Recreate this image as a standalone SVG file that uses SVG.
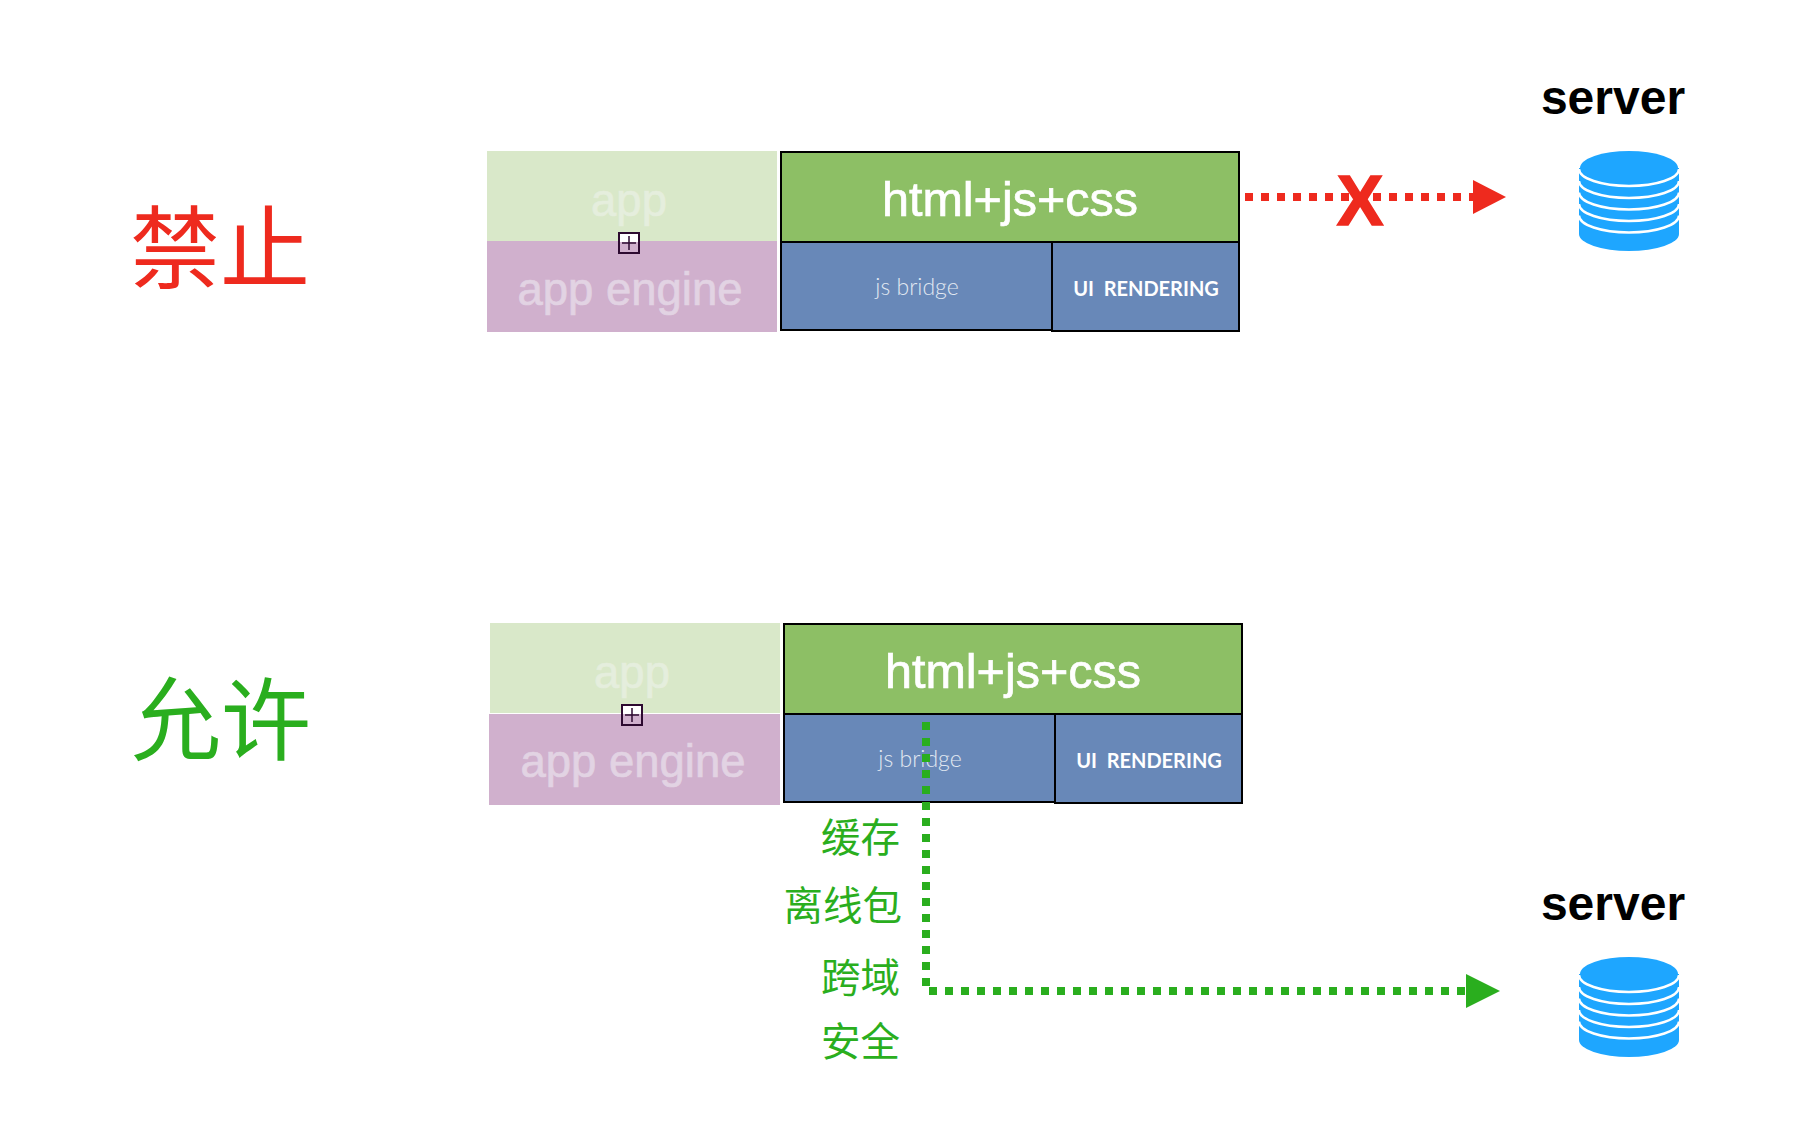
<svg xmlns="http://www.w3.org/2000/svg" width="1798" height="1136" viewBox="0 0 1798 1136">
<style>
text{font-family:"Liberation Sans",Arial,sans-serif}
.cjk{font-family:"Noto Sans CJK SC",sans-serif}
.title{font-size:90px;text-anchor:middle}
.small{font-size:39.500px;fill:#2AAE1E;text-anchor:end}
.app{font-size:45.500px;text-anchor:middle;fill:#E5EEDD;stroke:#E5EEDD;stroke-width:.7}
.eng{font-size:45.500px;text-anchor:middle;fill:#E2D3E3;stroke:#E2D3E3;stroke-width:.7}
.html{font-size:48.500px;text-anchor:middle;fill:#fff;stroke:#fff;stroke-width:.7}
.js{font-family:"Lato",sans-serif;font-weight:300;font-size:23px;text-anchor:middle;fill:#E2E8F2}
.ui{font-family:"Lato",sans-serif;font-weight:700;font-size:20px;text-anchor:middle;fill:#fff;white-space:pre}
.srv{font-size:48px;font-weight:700;text-anchor:middle;fill:#000}
.box{stroke:#000;stroke-width:2}
.lg{fill:#D9E8C9}.pu{fill:#D0B0CD}.gr{fill:#8DBF65}.bl{fill:#6888B8}
.arc{fill:none;stroke:#fff;stroke-width:2.500}
.dr{fill:none;stroke:#EE2A1E;stroke-width:8;stroke-dasharray:8 8}
.dg{fill:none;stroke:#2AAE1E;stroke-width:8;stroke-dasharray:8 8}
</style>
<defs>
<g id="db">
<path d="M0 17V83A50 17 0 0 0 100 83V17Z" fill="#1EA6FF"/>
<ellipse cx="50" cy="17" rx="49" ry="17" fill="#1EA6FF"/>
<path class="arc" d="M0 18A50 17 0 0 0 100 18M0 30A50 17 0 0 0 100 30M0 41.500A50 17 0 0 0 100 41.500M0 53A50 17 0 0 0 100 53M0 64.500A50 17 0 0 0 100 64.500"/>
</g>
<g id="plus">
<rect x="1" y="1" width="20" height="9" fill="#fff"/>
<path d="M1 1H21V21H1Z" fill="none" stroke="#2D0A30" stroke-width="2"/>
<path d="M4 11H18M11 4V18" fill="none" stroke="#2D0A30" stroke-width="1.500"/>
</g>
</defs>

<g id="label-forbid"><text class="cjk title" x="220" y="281" fill="#EE2A1E">禁止</text></g>
<g id="label-allow"><text class="cjk title" x="221" y="753" fill="#2AAE1E">允许</text></g>

<g id="top-app"><rect class="lg" x="487" y="151" width="290" height="90"/><text class="app" x="629" y="216">app</text></g>
<g id="top-engine"><rect class="pu" x="487" y="241" width="290" height="91"/><text class="eng" x="630" y="305">app engine</text></g>
<use id="top-plus" href="#plus" x="618" y="232"/>
<g id="top-html"><rect class="gr box" x="781" y="152" width="458" height="90"/><text class="html" x="1010" y="216">html+js+css</text></g>
<g id="top-js"><rect class="bl box" x="781" y="242" width="271" height="88"/><text class="js" x="917" y="295">js bridge</text></g>
<g id="top-ui"><rect class="bl box" x="1052" y="242" width="187" height="89"/><text class="ui" x="1146" y="296">UI  RENDERING</text></g>

<g id="bottom-app"><rect class="lg" x="490" y="623" width="290" height="90"/><text class="app" x="632" y="688">app</text></g>
<g id="bottom-engine"><rect class="pu" x="489" y="714" width="291" height="91"/><text class="eng" x="633" y="777">app engine</text></g>
<use id="bottom-plus" href="#plus" x="621" y="704"/>
<g id="bottom-html"><rect class="gr box" x="784" y="624" width="458" height="90"/><text class="html" x="1013" y="688">html+js+css</text></g>
<g id="bottom-js"><rect class="bl box" x="784" y="714" width="271" height="88"/><text class="js" x="920" y="767">js bridge</text></g>
<g id="bottom-ui"><rect class="bl box" x="1055" y="714" width="187" height="89"/><text class="ui" x="1149" y="768">UI  RENDERING</text></g>

<g id="connectors">
<path class="dr" d="M1245 197H1473"/>
<path d="M1473 180L1506 197L1473 214Z" fill="#EE2A1E"/>
<path class="dg" d="M926 722V987"/>
<path class="dg" d="M929 991H1466"/>
<path d="M1466 974L1500 991L1466 1008Z" fill="#2AAE1E"/>
</g>
<g id="block-x"><text x="1360" y="224.500" font-size="70" font-weight="700" text-anchor="middle" fill="#EE2A1E" stroke="#EE2A1E" stroke-width="1.500">X</text></g>

<g id="server-top"><text class="srv" x="1613" y="114">server</text><use href="#db" x="1579" y="151"/></g>
<g id="server-bottom"><text class="srv" x="1613" y="920">server</text><use href="#db" x="1579" y="957"/></g>

<g id="notes">
<text class="cjk small" x="900" y="852">缓存</text>
<text class="cjk small" x="902" y="920">离线包</text>
<text class="cjk small" x="900" y="992">跨域</text>
<text class="cjk small" x="900" y="1056">安全</text>
</g>
</svg>
